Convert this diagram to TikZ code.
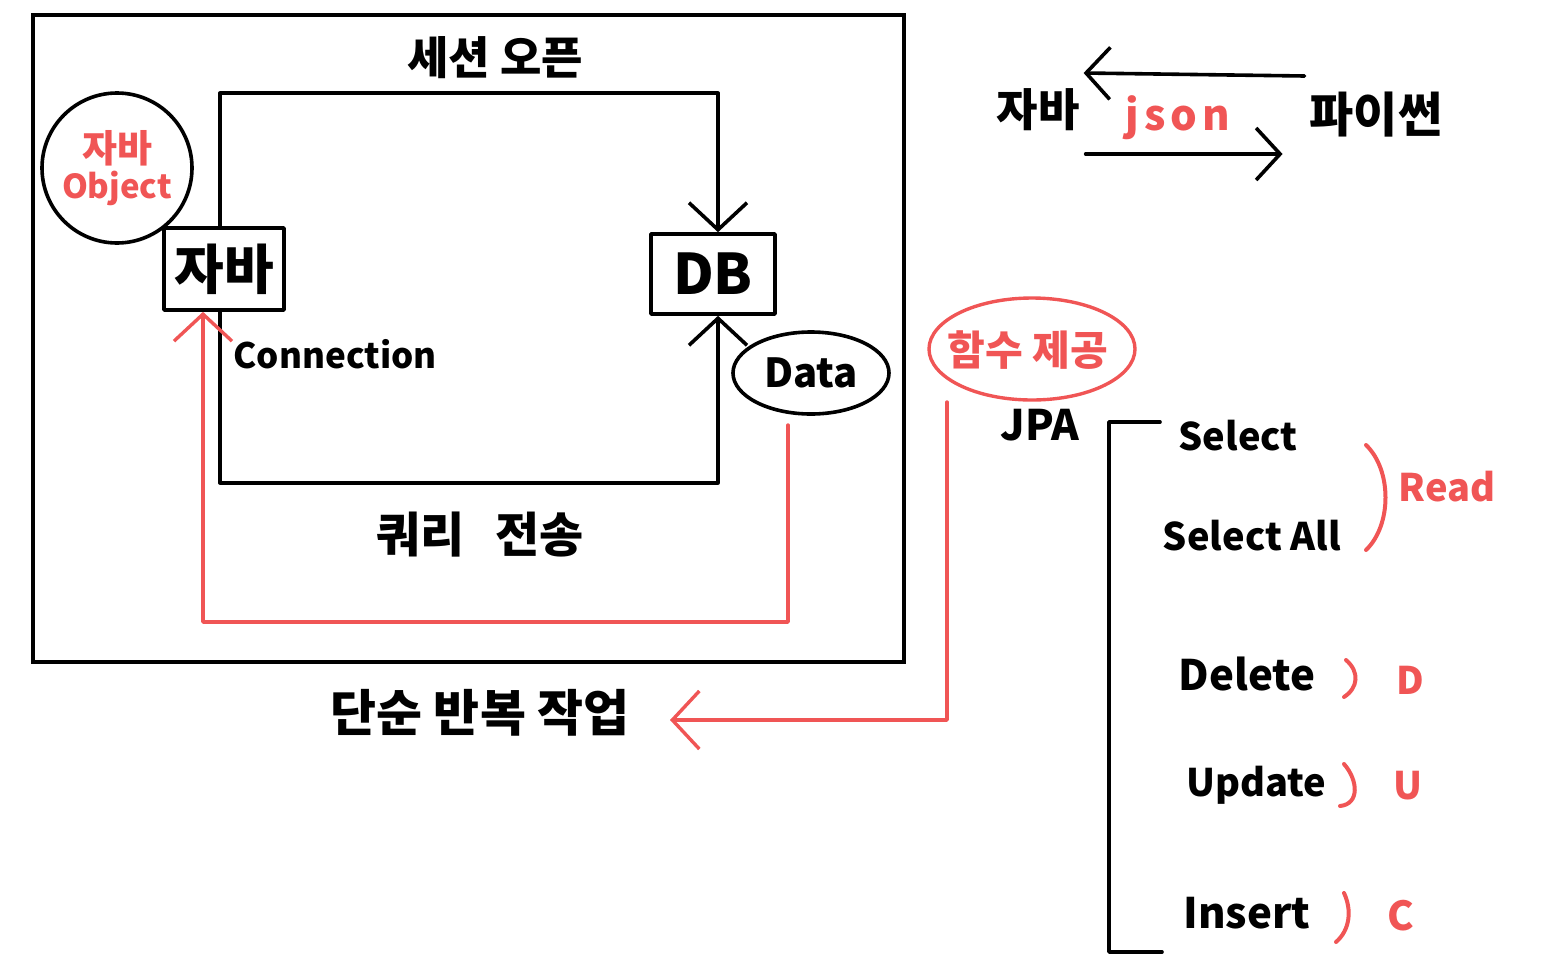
\documentclass[tikz,border=0pt]{standalone}
\usepackage{fontspec}
\setmainfont{Noto Sans CJK KR}
\usetikzlibrary{arrows.meta,calc,shapes.geometric}
\definecolor{pen}{RGB}{240,85,85}
\begin{document}
\begin{tikzpicture}[x=1pt,y=-1pt,
  ink/.style={line width=3.6pt,black,line cap=round,line join=round},
  redink/.style={line width=3.4pt,pen,line cap=round,line join=round},
  box/.style={draw,ink,rectangle,inner sep=0pt},
  barb/.style={-{Straight Barb[length=27pt,width=58pt]}},
  sbarb/.style={-{Straight Barb[length=24pt,width=52pt]}},
  fs/.style={font=\fontsize{#1}{#1}\selectfont\bfseries},
  lbl/.style={inner sep=0pt}]
\useasboundingbox (0,0) rectangle (1543,967);
% outer frame
\draw[ink,line cap=butt,line join=miter] (33,15) rectangle (904,662);
% main nodes
\node[box,minimum width=120pt,minimum height=82pt,fs=54] (java) at (224,269) {자바};
\node[box,minimum width=124pt,minimum height=80pt,fs=56] (db) at (713,274) {DB};
\node[draw,ink,circle,minimum size=150pt,inner sep=0pt,align=center,text=pen,fs=38] (obj) at (117,168) {자바\\[-2pt]{\fontsize{33}{33}\selectfont\bfseries Object}};
\node[draw,ink,ellipse,minimum width=156pt,minimum height=82pt,inner sep=0pt,fs=40] (data) at (811,373) {Data};
% labels
\node[lbl,fs=45] (sess) at (495,58) {세션 오픈};
\node[lbl,fs=35] (conn) at (335,354) {Connection};
\node[lbl,fs=48] (query) at (480,535) {쿼리\hspace{30pt}전송};
\node[lbl,fs=50] (work) at (480,713) {단순 반복 작업};
% black loop
\draw[ink,barb] ([xshift=-4pt]java.north) -- ++(0,-133) -| ([xshift=5pt]db.north);
\draw[ink,barb] ([xshift=-4pt]java.south) -- ++(0,171) -| ([xshift=5pt]db.south);
% red return path
\coordinate (d0) at (788,425);
\draw[redink,barb] (d0) -- ++(0,197) -| ([xshift=-21pt]java.south);
% function provide
\node[lbl,fs=41,text=pen] (func) at (1028,350) {함수 제공};
\draw[redink] (1032,349) ellipse [x radius=103, y radius=51];
\coordinate (f0) at (947,402);
\coordinate (t2) at (670,720);
\draw[redink,barb] (f0) |- (t2);
% JPA
\node[lbl,fs=42] (jpa) at (1040,425) {JPA};
\coordinate (b0) at (1160,422);
\coordinate (b1) at (1162,952);
\draw[ink] (b0) -- ++(-51,0) |- (b1);
\node[lbl,fs=38] (sel) at (1238,436) {Select};
\node[lbl,fs=38] (selall) at (1252,536) {Select All};
\node[lbl,fs=42] (del) at (1247,674) {Delete};
\node[lbl,fs=38] (upd) at (1256,785) {Update};
\node[lbl,fs=42] (ins) at (1247,913) {Insert};
% CRUD marks
\coordinate (r0) at (1366,445);
\coordinate (r1) at (1366,550);
\draw[redink,line width=4pt] (r0) .. controls (1392,470) and (1392,525) .. (r1);
\node[lbl,fs=38,text=pen] (read) at (1447,487) {Read};
\coordinate (dd0) at (1346,660);
\coordinate (dd1) at (1344,697);
\draw[redink,line width=4pt] (dd0) .. controls (1360,672) and (1358,688) .. (dd1);
\node[lbl,fs=38,text=pen] (dl) at (1410,680) {D};
\coordinate (uu0) at (1344,764);
\coordinate (uu1) at (1340,806);
\draw[redink,line width=4pt] (uu0) .. controls (1358,780) and (1360,804) .. (uu1);
\node[lbl,fs=38,text=pen] (ul) at (1408,786) {U};
\coordinate (ii0) at (1344,893);
\coordinate (ii1) at (1336,942);
\draw[redink,line width=4pt] (ii0) .. controls (1352,910) and (1350,930) .. (ii1);
\node[lbl,fs=40,text=pen] (cl) at (1401,916) {C};
% java <-> python
\node[lbl,fs=45] (jv2) at (1038,110) {자바};
\node[lbl,fs=48] (py) at (1376,115) {파이썬};
\node[lbl,fs=42,text=pen] (js) at (1178,118) {\addfontfeatures{LetterSpace=12}json};
\draw[ink,sbarb] ([yshift=39pt,xshift=-5pt]py.west) -- ([yshift=37pt,xshift=4pt]jv2.east);
\draw[ink,sbarb] ([yshift=-44pt,xshift=6pt]jv2.east) -- ([yshift=-39pt,xshift=-27pt]py.west);
\end{tikzpicture}
\end{document}
